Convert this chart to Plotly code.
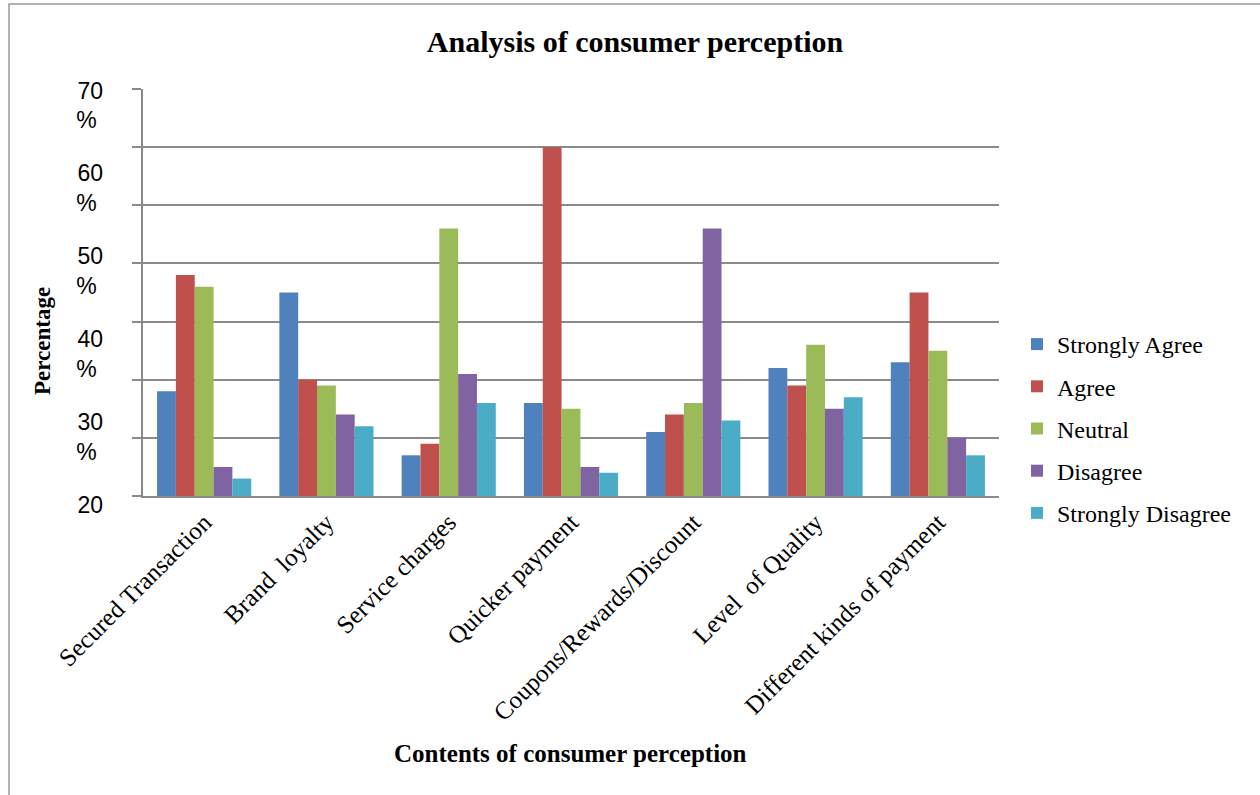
import plotly.graph_objects as go

# ---------------- data ----------------
categories = ["Secured Transaction", "Brand  loyalty", "Service charges", "Quicker payment",
              "Coupons/Rewards/Discount", "Level  of Quality", "Different kinds of payment"]
strongly_agree = [18, 35, 7, 16, 11, 22, 23]
agree = [38, 20, 9, 60, 14, 19, 35]
neutral = [36, 19, 46, 15, 16, 26, 25]
disagree = [5, 14, 21, 5, 46, 15, 10]
strongly_disagree = [3, 12, 16, 4, 13, 17, 7]

series_names = ["Strongly Agree", "Agree", "Neutral", "Disagree", "Strongly Disagree"]
series_values = [strongly_agree, agree, neutral, disagree, strongly_disagree]
series_colors = ["#4F81BD", "#C0504D", "#9BBB59", "#8064A2", "#4BACC6"]

# tick labels shown on the left (as printed in the source figure)
ylabel_vals = [20, 30, 40, 50, 60, 70]
ylabel_text = ["20<br>\u00a0", "30<br>%\u00a0", "40<br>%\u00a0", "50<br>%\u00a0", "60<br>%\u00a0", "70<br>%\u00a0"]

# ---------------- layout geometry (pixels) ----------------
W, H = 1260, 795
ML, MR, MT, MB = 60, 261, 89, 255
PW = W - ML - MR
PH = H - MT - MB

def px_x(x):
    return (x - ML) / PW

def px_y(y):
    return (H - MB - y) / PH

GRID = "#8a8a8a"
SERIF = "Liberation Serif, Times New Roman, serif"
SANS = "Liberation Sans, Arial, sans-serif"

fig = go.Figure()
for name, vals, col in zip(series_names, series_values, series_colors):
    fig.add_trace(go.Bar(
        x=categories, y=vals, name=name, legendgroup=name,
        marker=dict(color=col, line=dict(width=0)),
    ))

# invisible trace that carries the secondary label axis
fig.add_trace(go.Scatter(x=[categories[0]], y=[None], yaxis="y2", mode="markers",
                         marker=dict(opacity=0), showlegend=False, hoverinfo="skip"))

fig.update_layout(
    width=W, height=H,
    margin=dict(l=ML, r=MR, t=MT, b=MB, autoexpand=False),
    paper_bgcolor="white", plot_bgcolor="rgba(0,0,0,0)",
    barmode="group", bargap=0.23, bargroupgap=0,
    title=dict(text="<b>Analysis of consumer perception</b>", xref="container", x=635 / W,
               xanchor="center", yref="container", y=1 - 41 / H, yanchor="middle",
               font=dict(family=SERIF, size=30, color="black")),
    xaxis=dict(domain=[px_x(143), 1], showline=True, linecolor=GRID, linewidth=1.5,
               ticks="", tickangle=-45, tickfont=dict(family=SERIF, size=25, color="black"),
               showgrid=False, automargin=False),
    yaxis=dict(domain=[px_y(496), 1], range=[0, 70], dtick=10, showgrid=True,
               gridcolor=GRID, gridwidth=1.5, showline=True, linecolor=GRID, linewidth=1.5,
               ticks="outside", ticklen=9, tickcolor=GRID, tickwidth=1.5,
               showticklabels=False, zeroline=False, automargin=False),
    yaxis2=dict(domain=[0, 1], anchor="free", position=px_x(103),
                range=[70 - (H - MB - 105.5) / 8.2875, 70 + (105.5 - MT) / 8.2875],
                tickvals=ylabel_vals, ticktext=ylabel_text, showgrid=False, zeroline=False,
                showline=False, ticks="", automargin=False,
                tickfont=dict(family=SANS, size=23, color="black")),
    legend=dict(x=px_x(1017), xanchor="left", y=px_y(322), yanchor="top",
                font=dict(family=SERIF, size=24, color="black"), tracegroupgap=8,
                bgcolor="rgba(0,0,0,0)"),
    showlegend=True,
)

fig.add_annotation(text="<b>Percentage</b>", xref="paper", yref="paper",
                   x=px_x(42.5), y=px_y(341.5), textangle=-90, showarrow=False,
                   xanchor="center", yanchor="middle",
                   font=dict(family=SERIF, size=23, color="black"))
fig.add_annotation(text="<b>Contents of consumer perception</b>", xref="paper", yref="paper",
                   x=px_x(570), y=px_y(753), showarrow=False, xanchor="center", yanchor="middle",
                   font=dict(family=SERIF, size=25, color="black"))

fig.add_shape(type="rect", xref="paper", yref="paper", layer="below",
              x0=px_x(9), y0=px_y(4), x1=px_x(1268), y1=px_y(805),
              line=dict(color="#9a9a9a", width=1.5), fillcolor="rgba(0,0,0,0)")

fig.write_html("out.html")
